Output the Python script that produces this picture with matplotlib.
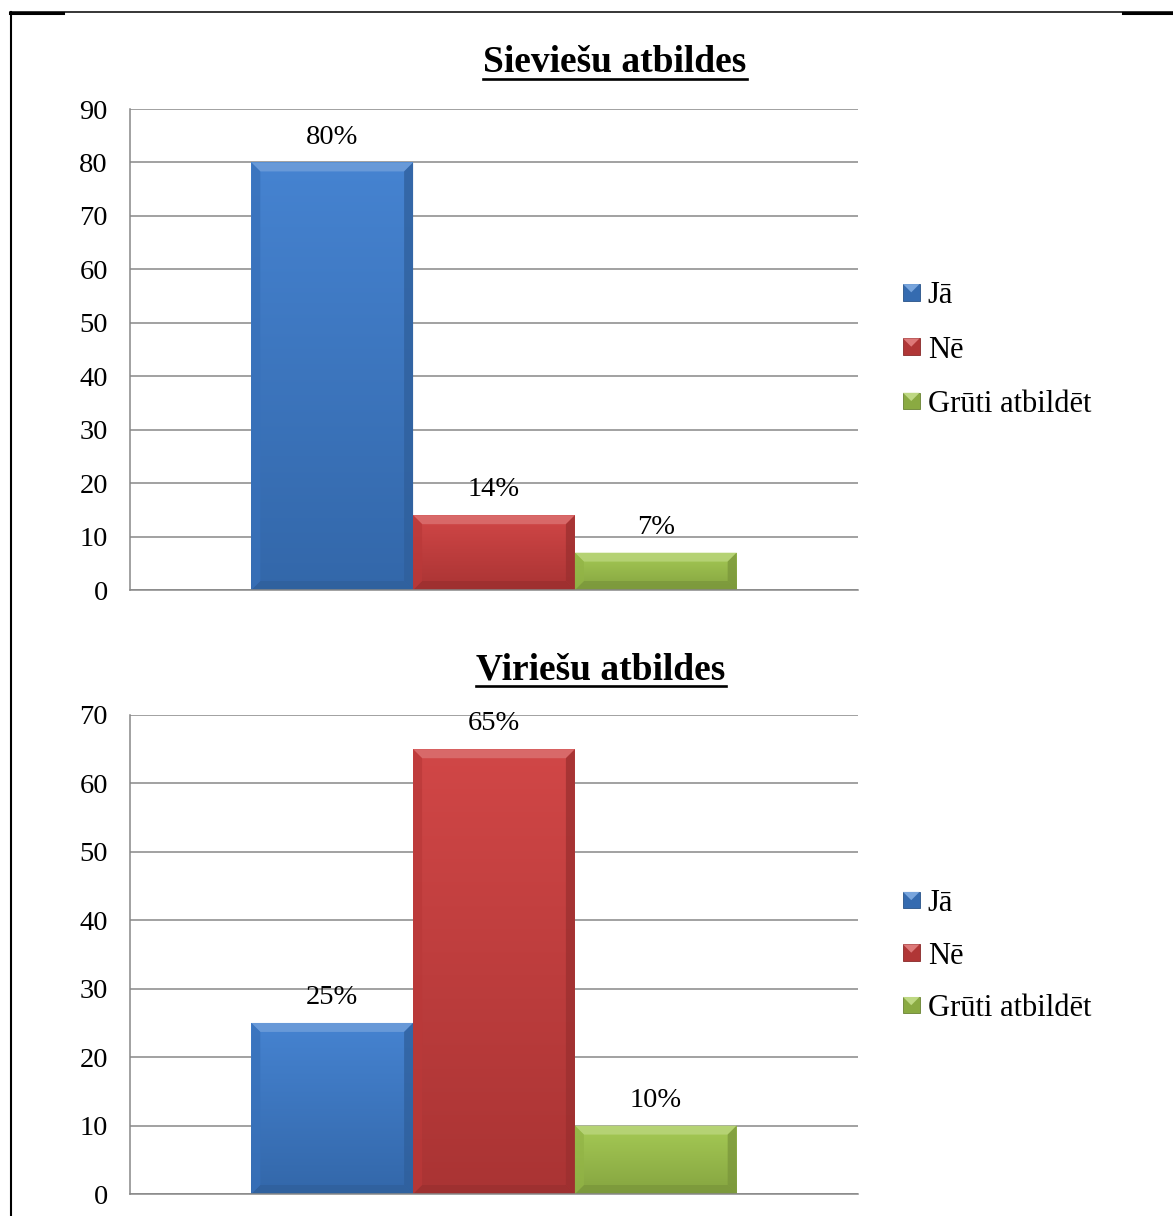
import numpy as np
import matplotlib
matplotlib.use("Agg")
from matplotlib import pyplot as plt
from matplotlib.colors import to_rgb, LinearSegmentedColormap
from matplotlib.patches import Polygon, Rectangle
from matplotlib.lines import Line2D
from matplotlib.legend_handler import HandlerBase

plt.rcParams["font.family"] = ["Liberation Serif", "DejaVu Serif"]

answers = ["Jā", "Nē", "Grūti atbildēt"]
women_values = [80, 14, 7]
men_values = [25, 65, 10]
women_title = "Sieviešu atbildes"
men_title = "Viriešu atbildes"

BAR_COLORS = ["#3E7ECF", "#CF3F3F", "#A2C84E"]
GRID_COLOR = "#878787"
FONT_SIZE = 20.5
LEGEND_SIZE = 22
W, H = 1173, 1216


def mix(color, other, t):
    c = np.array(to_rgb(color))
    return tuple(c * (1 - t) + np.array(other) * t)


def bevel_bar(ax, bar, color, bevel_px=9):
    """Gradient fill plus four bevel faces, sized in pixels."""
    x0, y0 = bar.get_x(), bar.get_y()
    x1, y1 = x0 + bar.get_width(), y0 + bar.get_height()
    bbox = ax.get_window_extent()
    xl, yl = ax.get_xlim(), ax.get_ylim()
    dx = bevel_px * (xl[1] - xl[0]) / bbox.width
    dy = bevel_px * (yl[1] - yl[0]) / bbox.height
    dy = min(dy, (y1 - y0) / 2)

    cmap = LinearSegmentedColormap.from_list("g", [mix(color, (0, 0, 0), 0.18), mix(color, (1, 1, 1), 0.04)])
    grad = np.linspace(0, 1, 256).reshape(-1, 1)
    im = ax.imshow(grad, cmap=cmap, origin="lower", extent=(x0, x1, y0, y1),
                   aspect="auto", zorder=2.1, interpolation="bicubic")
    im.set_clip_path(bar)

    faces = [
        ([(x0, y1), (x1, y1), (x1 - dx, y1 - dy), (x0 + dx, y1 - dy)], mix(color, (1, 1, 1), 0.28)),
        ([(x0, y0), (x1, y0), (x1 - dx, y0 + dy), (x0 + dx, y0 + dy)], mix(color, (0, 0, 0), 0.25)),
        ([(x0, y0), (x0, y1), (x0 + dx, y1 - dy), (x0 + dx, y0 + dy)], mix(color, (0, 0, 0), 0.10)),
        ([(x1, y0), (x1, y1), (x1 - dx, y1 - dy), (x1 - dx, y0 + dy)], mix(color, (0, 0, 0), 0.25)),
    ]
    for pts, fc in faces:
        ax.add_patch(Polygon(pts, closed=True, facecolor=fc, edgecolor="none", alpha=0.75, zorder=2.2))


class BevelSquare(HandlerBase):
    def create_artists(self, legend, orig_handle, xdescent, ydescent, width, height, fontsize, trans):
        color = orig_handle.get_facecolor()
        s = min(width, height)
        x0, y0 = -xdescent, -ydescent + (height - s) / 2
        sq = Rectangle((x0, y0), s, s, facecolor=mix(color[:3], (0, 0, 0), 0.15),
                       edgecolor=mix(color[:3], (0, 0, 0), 0.35), lw=0.6, transform=trans)
        tri = Polygon([(x0, y0 + s), (x0 + s, y0 + s), (x0 + s / 2, y0 + s / 2)],
                      facecolor=mix(color[:3], (1, 1, 1), 0.3), edgecolor="none", transform=trans)
        return [sq, tri]


def draw_chart(fig, rect, values, ymax, title, title_x, title_base, legend_y, spacing):
    ax = fig.add_axes(rect)
    x = np.arange(len(values))
    bars = ax.bar(x, values, width=1.0, color=BAR_COLORS, zorder=2)
    ax.set_xlim(-1.25, 3.25)
    ax.set_ylim(0, ymax)
    ax.set_yticks(np.arange(0, ymax + 1, 10))
    ax.set_xticks([])
    ax.tick_params(axis="y", length=0, pad=16, labelsize=FONT_SIZE)
    ax.grid(axis="y", color=GRID_COLOR, linewidth=1.1, zorder=0)
    for side in ["top", "right"]:
        ax.spines[side].set_visible(False)
    for side in ["left", "bottom"]:
        ax.spines[side].set_color(GRID_COLOR)
        ax.spines[side].set_linewidth(1.1)

    for bar, color, v in zip(bars, BAR_COLORS, values):
        bevel_bar(ax, bar, color)
        ax.annotate(f"{v}%", (bar.get_x() + bar.get_width() / 2, v), xytext=(0, 13.5),
                    textcoords="offset points", ha="center", va="baseline", fontsize=FONT_SIZE, zorder=3)

    t = fig.text(title_x / W, 1 - title_base / H, title, ha="center", va="baseline",
                 fontsize=27, fontweight="bold")
    fig.canvas.draw()
    bb = t.get_window_extent()
    uy = (H - title_base - 7) / H
    fig.add_artist(Line2D([bb.x0 / W, bb.x1 / W], [uy, uy], color="black", lw=1.9))

    ax.legend(bars, answers, handler_map={type(bars[0]): BevelSquare()}, loc="center left",
              bbox_to_anchor=(903 / W, 1 - legend_y / H), bbox_transform=fig.transFigure,
              frameon=False, fontsize=LEGEND_SIZE, borderpad=0, borderaxespad=0,
              handlelength=0.54, handleheight=0.54, handletextpad=0.27, labelspacing=spacing)
    return ax


fig = plt.figure(figsize=(W / 100, H / 100), dpi=100)

draw_chart(fig, [130 / W, 626 / H, 728 / W, 481 / H], women_values, 90,
           women_title, 615, 72, 350, 0.83)
draw_chart(fig, [130 / W, 22 / H, 728 / W, 479 / H], men_values, 70,
           men_title, 601, 679, 956, 0.77)

# page border
fig.add_artist(Line2D([10.5 / W, 10.5 / W], [0, 1 - 12 / H], color="black", lw=1.5))
fig.add_artist(Line2D([10 / W, 1], [1 - 12 / H, 1 - 12 / H], color="black", lw=1.1))
fig.add_artist(Line2D([10 / W, 63 / W], [1 - 13 / H, 1 - 13 / H], color="black", lw=2.2))
fig.add_artist(Line2D([1123 / W, 1], [1 - 13 / H, 1 - 13 / H], color="black", lw=2.2))

fig.savefig("out.png", dpi=100)
